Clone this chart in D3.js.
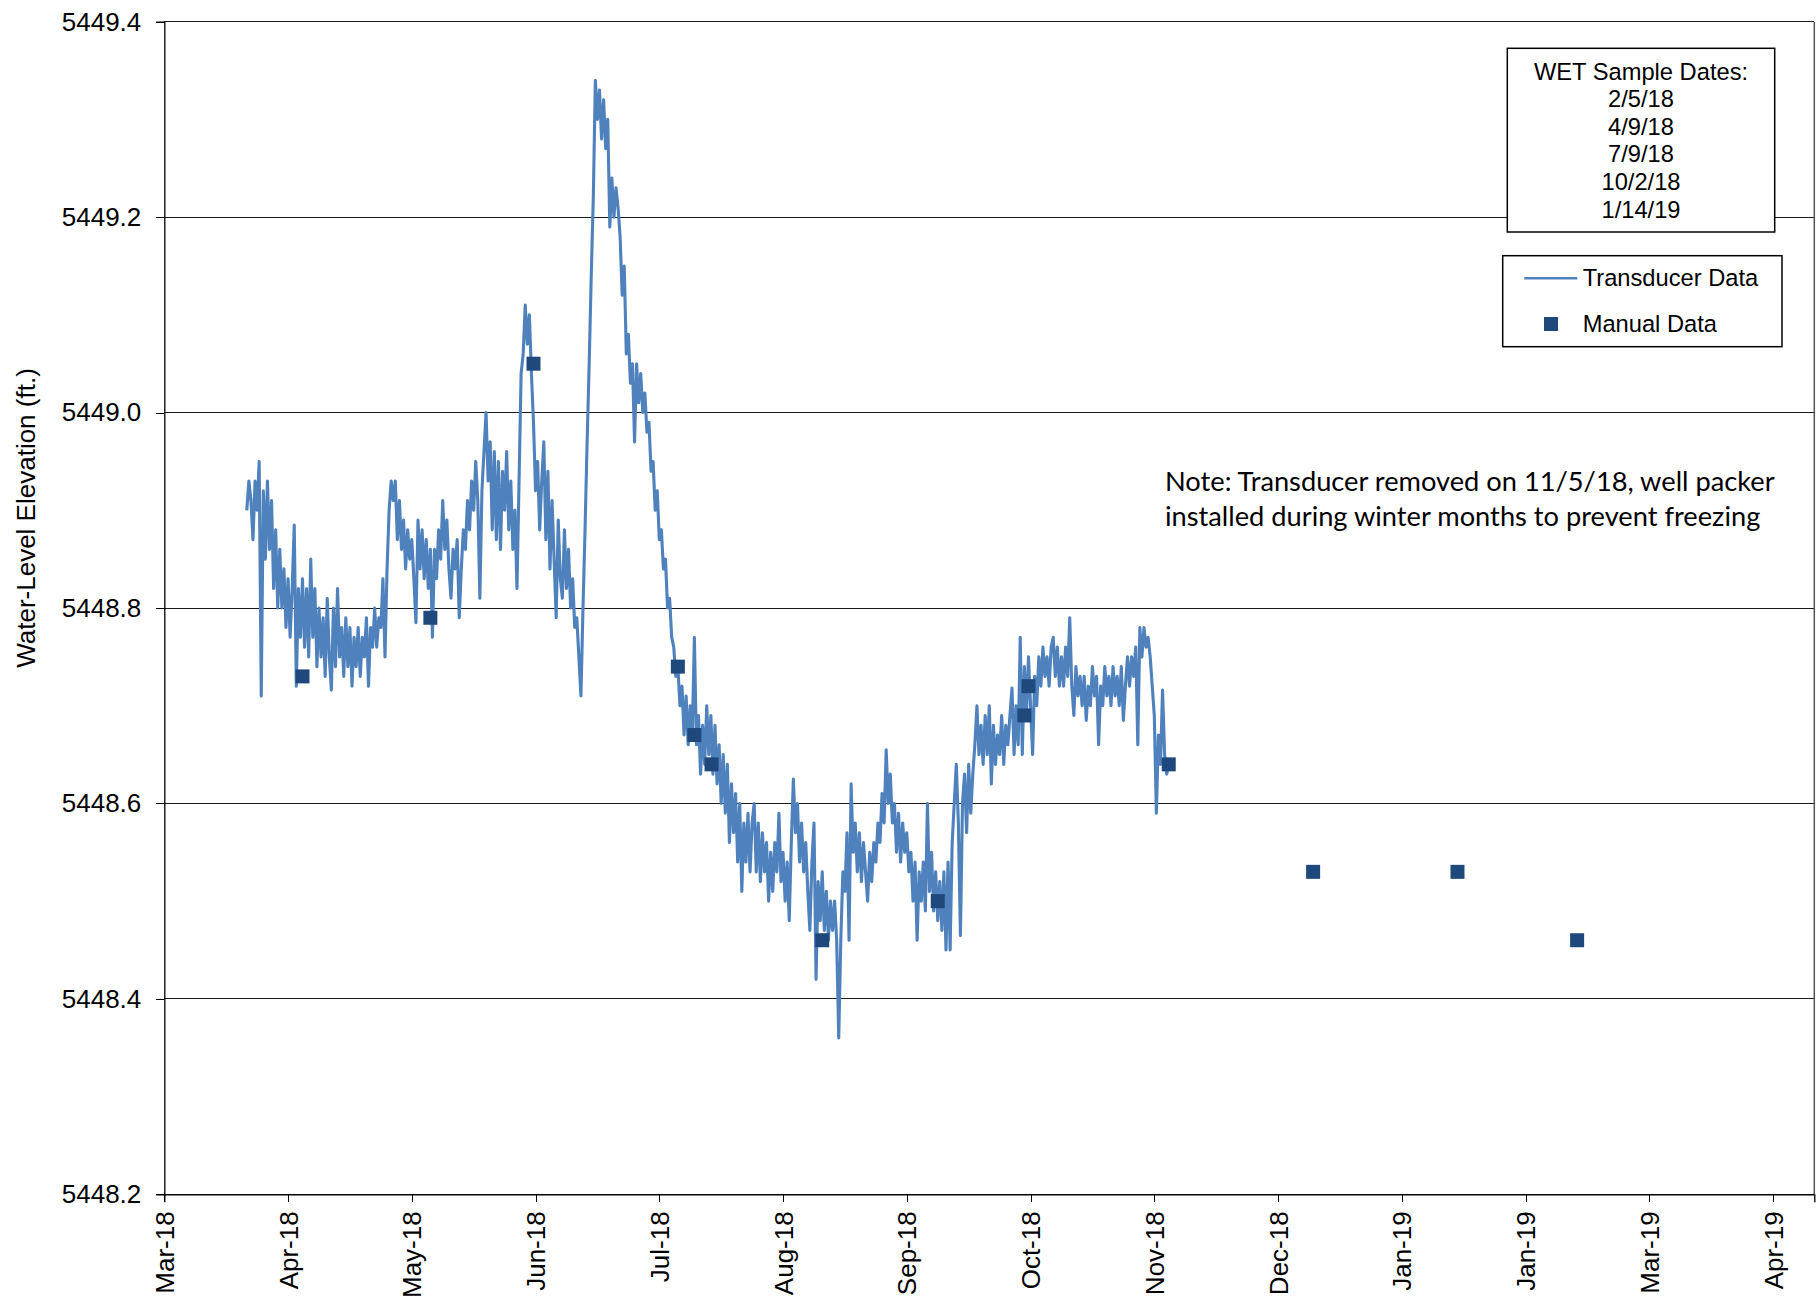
<!DOCTYPE html>
<html><head><meta charset="utf-8">
<script src="https://cdn.jsdelivr.net/npm/d3@7"></script>
<style>body{margin:0;background:#fff}svg{display:block}</style>
</head><body>
<svg id="chart" width="1817" height="1298"></svg>
<script>
// ---------------- DATA ----------------
const transducerStart = "2018-03-27T00:00";   // first reading
const transducerStepHours = 12;                // spacing of readings below
const transducerValues = [
  // 3/27
  5448.90, 5448.93, 5448.91, 5448.87, 5448.93, 5448.90, 5448.95, 5448.71, 5448.92, 5448.85,
  // 4/1
  5448.93, 5448.86, 5448.91, 5448.82, 5448.88, 5448.80, 5448.86, 5448.80, 5448.84, 5448.78,
  // 4/6
  5448.83, 5448.77, 5448.82, 5448.885, 5448.72, 5448.82, 5448.77, 5448.83, 5448.76, 5448.82,
  // 4/11
  5448.75, 5448.85, 5448.77, 5448.82, 5448.74, 5448.80, 5448.75, 5448.79, 5448.73, 5448.81,
  // 4/16
  5448.75, 5448.716, 5448.80, 5448.74, 5448.82, 5448.75, 5448.78, 5448.73, 5448.79, 5448.74,
  // 4/21
  5448.78, 5448.72, 5448.77, 5448.74, 5448.78, 5448.73, 5448.77, 5448.75, 5448.79, 5448.72,
  // 4/26
  5448.78, 5448.76, 5448.80, 5448.76, 5448.79, 5448.78, 5448.83, 5448.75, 5448.84, 5448.90,
  // 5/1
  5448.93, 5448.91, 5448.93, 5448.87, 5448.91, 5448.86, 5448.89, 5448.84, 5448.88, 5448.85,
  // 5/6
  5448.87, 5448.83, 5448.785, 5448.89, 5448.84, 5448.88, 5448.83, 5448.87, 5448.82, 5448.86,
  // 5/11
  5448.77, 5448.86, 5448.83, 5448.88, 5448.85, 5448.91, 5448.86, 5448.89, 5448.84, 5448.81,
  // 5/16
  5448.86, 5448.84, 5448.87, 5448.79, 5448.84, 5448.88, 5448.86, 5448.91, 5448.88, 5448.93,
  // 5/21
  5448.90, 5448.95, 5448.91, 5448.81, 5448.92, 5448.96, 5449.00, 5448.93, 5448.97, 5448.88,
  // 5/26
  5448.96, 5448.87, 5448.95, 5448.86, 5448.94, 5448.90, 5448.96, 5448.88, 5448.93, 5448.86,
  // 5/31
  5448.90, 5448.82, 5448.93, 5449.04, 5449.06, 5449.11, 5449.07, 5449.10, 5449.04, 5448.99,
  // 6/5
  5448.92, 5448.95, 5448.88, 5448.93, 5448.97, 5448.87, 5448.94, 5448.84, 5448.91, 5448.85,
  // 6/10
  5448.79, 5448.89, 5448.83, 5448.81, 5448.88, 5448.82, 5448.86, 5448.80, 5448.83, 5448.78,
  // 6/15
  5448.79, 5448.75, 5448.71, 5448.80, 5448.88, 5448.97, 5449.05, 5449.14, 5449.22, 5449.34,
  // 6/20
  5449.30, 5449.33, 5449.28, 5449.32, 5449.27, 5449.30, 5449.19, 5449.24, 5449.20, 5449.23,
  // 6/25
  5449.21, 5449.18, 5449.12, 5449.15, 5449.06, 5449.08, 5449.03, 5449.05, 5448.97, 5449.05,
  // 6/30
  5449.01, 5449.04, 5449.00, 5449.02, 5448.98, 5448.99, 5448.94, 5448.95, 5448.90, 5448.92,
  // 7/5
  5448.87, 5448.88, 5448.84, 5448.85, 5448.80, 5448.81, 5448.77, 5448.76, 5448.73, 5448.74,
  // 7/10
  5448.70, 5448.72, 5448.67, 5448.71, 5448.66, 5448.70, 5448.67, 5448.77, 5448.66, 5448.69,
  // 7/15
  5448.63, 5448.68, 5448.64, 5448.70, 5448.65, 5448.69, 5448.63, 5448.68, 5448.62, 5448.66,
  // 7/20
  5448.60, 5448.65, 5448.59, 5448.64, 5448.56, 5448.62, 5448.57, 5448.61, 5448.54, 5448.60,
  // 7/25
  5448.51, 5448.58, 5448.54, 5448.59, 5448.53, 5448.58, 5448.60, 5448.53, 5448.58, 5448.52,
  // 7/30
  5448.57, 5448.53, 5448.56, 5448.50, 5448.55, 5448.51, 5448.56, 5448.53, 5448.59, 5448.52,
  // 8/4
  5448.55, 5448.50, 5448.54, 5448.48, 5448.56, 5448.625, 5448.57, 5448.60, 5448.54, 5448.58,
  // 8/9
  5448.53, 5448.56, 5448.51, 5448.47, 5448.54, 5448.58, 5448.42, 5448.52, 5448.48, 5448.53,
  // 8/14
  5448.47, 5448.51, 5448.46, 5448.50, 5448.47, 5448.50, 5448.46, 5448.36, 5448.46, 5448.53,
  // 8/19
  5448.51, 5448.57, 5448.46, 5448.62, 5448.55, 5448.58, 5448.53, 5448.57, 5448.52, 5448.56,
  // 8/24
  5448.53, 5448.50, 5448.55, 5448.52, 5448.56, 5448.54, 5448.58, 5448.56, 5448.61, 5448.58,
  // 8/29
  5448.655, 5448.60, 5448.63, 5448.58, 5448.60, 5448.55, 5448.59, 5448.54, 5448.58, 5448.55,
  // 9/3
  5448.57, 5448.53, 5448.55, 5448.50, 5448.54, 5448.46, 5448.53, 5448.50, 5448.54, 5448.49,
  // 9/8
  5448.60, 5448.51, 5448.55, 5448.49, 5448.53, 5448.48, 5448.52, 5448.47, 5448.53, 5448.45,
  // 9/13
  5448.54, 5448.45, 5448.56, 5448.60, 5448.64, 5448.58, 5448.465, 5448.60, 5448.63, 5448.57,
  // 9/18
  5448.64, 5448.59, 5448.63, 5448.66, 5448.70, 5448.65, 5448.68, 5448.64, 5448.69, 5448.65,
  // 9/23
  5448.70, 5448.62, 5448.68, 5448.64, 5448.67, 5448.65, 5448.69, 5448.64, 5448.68, 5448.66,
  // 9/28
  5448.69, 5448.718, 5448.65, 5448.70, 5448.66, 5448.77, 5448.65, 5448.74, 5448.69, 5448.75,
  // 10/3
  5448.70, 5448.65, 5448.73, 5448.70, 5448.75, 5448.72, 5448.76, 5448.73, 5448.75, 5448.72,
  // 10/8
  5448.76, 5448.77, 5448.73, 5448.76, 5448.72, 5448.75, 5448.72, 5448.76, 5448.73, 5448.79,
  // 10/13
  5448.72, 5448.69, 5448.74, 5448.71, 5448.73, 5448.70, 5448.73, 5448.685, 5448.72, 5448.70,
  // 10/18
  5448.74, 5448.71, 5448.73, 5448.66, 5448.72, 5448.70, 5448.74, 5448.71, 5448.73, 5448.70,
  // 10/23
  5448.74, 5448.71, 5448.73, 5448.70, 5448.74, 5448.685, 5448.72, 5448.75, 5448.72, 5448.75,
  // 10/28
  5448.73, 5448.76, 5448.66, 5448.78, 5448.75, 5448.78, 5448.76, 5448.77, 5448.75, 5448.72,
  // 11/2
  5448.69, 5448.59, 5448.67, 5448.64, 5448.716, 5448.65, 5448.63, 5448.64
];

const manualDates = [
  "2018-04-09T12:00", "2018-05-10T12:00", "2018-06-04T12:00", "2018-07-09T12:00",
  "2018-07-13T12:00", "2018-07-17T16:00", "2018-08-13T12:00", "2018-09-10T12:00",
  "2018-10-01T12:00", "2018-10-02T12:00", "2018-11-05T12:00", "2018-12-10T12:00",
  "2019-01-14T12:00", "2019-02-12T12:00"
];
const manualValues = [
  5448.73, 5448.79, 5449.05, 5448.74, 5448.67, 5448.64, 5448.46, 5448.50,
  5448.69, 5448.72, 5448.64, 5448.53, 5448.53, 5448.46
];

const yDomain = [5448.2, 5449.4];
const yTickValues = [5448.2, 5448.4, 5448.6, 5448.8, 5449.0, 5449.2, 5449.4];
const xDomain = ["2018-03-07T00:00", "2019-04-11T00:00"];
const xTickStart = "2018-03-07T00:00";
const xTickStepDays = 30;
const xTickCount = 14;

const yAxisTitle = "Water-Level Elevation (ft.)";
const wetTitle = "WET Sample Dates:";
const wetDates = ["2/5/18", "4/9/18", "7/9/18", "10/2/18", "1/14/19"];
const legendLabels = ["Transducer Data", "Manual Data"];
const noteLines = ["Note: Transducer removed on 11/5/18, well packer",
                   "installed during winter months to prevent freezing"];

// ---------------- DRAW ----------------
const parse = d3.timeParse("%Y-%m-%dT%H:%M");
const lineColor = "#4F81BD", markColor = "#1F497D";
const M = {left: 164.3, right: 1814.3, top: 21.7, bottom: 1194.3};
const svg = d3.select("#chart");
const axisFont = "'Liberation Sans', Arial, sans-serif";

const x = d3.scaleTime().domain(xDomain.map(parse)).range([M.left, M.right]);
const y = d3.scaleLinear().domain(yDomain).range([M.bottom, M.top]);

const t0 = parse(transducerStart);
const transducer = transducerValues.map((v, i) => ({date: d3.timeHour.offset(t0, i * transducerStepHours), value: v}));
const manual = manualDates.map((d, i) => ({date: parse(d), value: manualValues[i]}));
const xTicks = d3.range(xTickCount).map(i => d3.timeDay.offset(parse(xTickStart), i * xTickStepDays));

// plot area background
svg.append("rect").attr("x", M.left).attr("y", M.top)
  .attr("width", M.right - M.left).attr("height", M.bottom - M.top)
  .attr("fill", "#fff");

// horizontal gridlines
svg.append("g").selectAll("line").data(yTickValues).join("line")
  .attr("x1", M.left).attr("x2", M.right)
  .attr("y1", d => y(d)).attr("y2", d => y(d))
  .attr("stroke", "#1a1a1a").attr("stroke-width", 1).attr("shape-rendering", "crispEdges");

// plot border (right)
svg.append("line").attr("x1", M.right).attr("x2", M.right).attr("y1", M.top).attr("y2", M.bottom)
  .attr("stroke", "#555").attr("stroke-width", 1.5);

// Y axis
const yAxis = svg.append("g").attr("transform", `translate(${M.left},0)`)
  .call(d3.axisLeft(y).tickValues(yTickValues).tickSize(8).tickPadding(15).tickFormat(d3.format(".1f")));
yAxis.select(".domain").attr("stroke", "#000").attr("stroke-width", 1.3);
yAxis.selectAll(".tick line").attr("stroke", "#000").attr("shape-rendering", "crispEdges");
yAxis.selectAll("text").attr("font-family", axisFont).attr("font-size", 26).attr("fill", "#000");

// X axis
const xAxis = svg.append("g").attr("transform", `translate(0,${M.bottom})`)
  .call(d3.axisBottom(x).tickValues(xTicks).tickSize(8).tickFormat(d3.timeFormat("%b-%y")));
xAxis.select(".domain").attr("stroke", "#000").attr("stroke-width", 1.3);
xAxis.selectAll(".tick line").attr("stroke", "#000").attr("shape-rendering", "crispEdges");
xAxis.selectAll("text")
  .attr("font-family", axisFont).attr("font-size", 26).attr("fill", "#000")
  .attr("text-anchor", "end").attr("x", 0).attr("y", 0).attr("dx", 0).attr("dy", "0.35em")
  .attr("transform", "translate(0,17) rotate(-90)");

// Y axis title
svg.append("text")
  .attr("transform", "translate(25.5,518) rotate(-90)")
  .attr("text-anchor", "middle").attr("dy", "0.35em")
  .attr("font-family", axisFont).attr("font-size", 26).attr("fill", "#000")
  .text(yAxisTitle);

// transducer line
const line = d3.line().x(d => x(d.date)).y(d => y(d.value));
svg.append("path").datum(transducer)
  .attr("d", line).attr("fill", "none")
  .attr("stroke", lineColor).attr("stroke-width", 3.1).attr("stroke-linejoin", "round");

// manual squares
const sq = 14;
svg.append("g").selectAll("rect").data(manual).join("rect")
  .attr("x", d => x(d.date) - sq / 2).attr("y", d => y(d.value) - sq / 2)
  .attr("width", sq).attr("height", sq).attr("fill", markColor);

// WET sample dates box
const wet = svg.append("g");
wet.append("rect").attr("x", 1507.3).attr("y", 48.3).attr("width", 267.4).attr("height", 183.7)
  .attr("fill", "#fff").attr("stroke", "#000").attr("stroke-width", 1.5);
wet.selectAll("text").data([wetTitle, ...wetDates]).join("text")
  .attr("x", 1641).attr("y", (d, i) => 79.5 + i * 27.6)
  .attr("text-anchor", "middle").attr("font-family", axisFont).attr("font-size", 23.7).attr("fill", "#000")
  .text(d => d);

// legend
const lg = svg.append("g");
lg.append("rect").attr("x", 1502.7).attr("y", 255.7).attr("width", 279.3).attr("height", 91)
  .attr("fill", "#fff").attr("stroke", "#000").attr("stroke-width", 1.5);
lg.append("line").attr("x1", 1524.3).attr("x2", 1577.3).attr("y1", 278.3).attr("y2", 278.3)
  .attr("stroke", lineColor).attr("stroke-width", 2.6);
lg.append("rect").attr("x", 1551 - sq / 2).attr("y", 324 - sq / 2).attr("width", sq).attr("height", sq)
  .attr("fill", markColor);
lg.selectAll("text").data(legendLabels).join("text")
  .attr("x", 1582.7).attr("y", (d, i) => [285.5, 331.5][i])
  .attr("font-family", axisFont).attr("font-size", 23.7).attr("fill", "#000")
  .text(d => d);

// note
const noteFont = "Lato, 'Open Sans', 'Noto Sans', sans-serif";
const note = svg.append("g");
const noteTexts = note.selectAll("text").data(noteLines).join("text")
  .attr("x", 1165).attr("y", (d, i) => 491 + i * 35)
  .attr("font-family", noteFont).attr("font-size", 24).attr("fill", "#000")
  .text(d => d);
const w0 = noteTexts.nodes()[0].getComputedTextLength();
noteTexts.attr("font-size", 24 * 610 / w0);
</script>
</body></html>
